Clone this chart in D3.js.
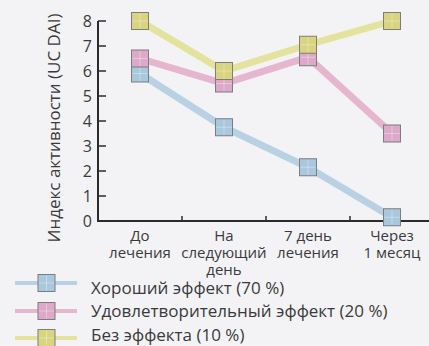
<!DOCTYPE html>
<html><head><meta charset="utf-8">
<script src="https://cdn.jsdelivr.net/npm/d3@7"></script>
<style>
html,body{margin:0;padding:0;background:#f3f3f6;}
svg{display:block;}
text{font-family:"Open Sans","Noto Sans",sans-serif;fill:#3a3a3a;}
</style></head>
<body>
<svg id="c" width="429" height="346"></svg>
<script>
const categories = [["До","лечения"],["На","следующий","день"],["7 день","лечения"],["Через","1 месяц"]];
const yTicks = [0,1,2,3,4,5,6,7,8];
const seriesNames = ["Хороший эффект (70 %)","Удовлетворительный эффект (20 %)","Без эффекта (10 %)"];
const goodValues = [5.9, 3.75, 2.15, 0.15];
const satisfactoryValues = [6.5, 5.5, 6.55, 3.5];
const noEffectValues = [8.0, 6.0, 7.05, 8.0];
const lineColors = ["#b9d2e3","#e6b6cf","#e4e39d"];
const fillColors = ["#a9c8de","#dcaac8","#d9d47f"];
const yLabel = "Индекс активности (UC DAI)";

const svg = d3.select("#c");
const x = d3.scaleBand().domain(d3.range(categories.length)).range([98, 434]);
const y = d3.scaleLinear().domain([0, 8]).range([221, 21]);
const series = [goodValues, satisfactoryValues, noEffectValues];

// axes
const ax = svg.append("g");
ax.append("line").attr("x1",98).attr("x2",429).attr("y1",y(0)).attr("y2",y(0)).attr("stroke","#2b2b2b").attr("stroke-width",2);
ax.append("line").attr("x1",98).attr("x2",98).attr("y1",y(0)+1).attr("y2",y(8)).attr("stroke","#2b2b2b").attr("stroke-width",2);
yTicks.forEach(t=>{
  ax.append("line").attr("x1",98).attr("x2",106).attr("y1",y(t)).attr("y2",y(t)).attr("stroke","#2b2b2b").attr("stroke-width",1.5);
  ax.append("text").attr("x",92).attr("y",y(t)).attr("dy","0.36em").attr("text-anchor","end").attr("font-size",16).text(t);
});
d3.range(1, categories.length).forEach(i=>{
  const xx = x(i);
  ax.append("line").attr("x1",xx).attr("x2",xx).attr("y1",y(0)).attr("y2",y(0)-5).attr("stroke","#2b2b2b").attr("stroke-width",1.5);
});
categories.forEach((lines,i)=>{
  const t = ax.append("text").attr("text-anchor","middle").attr("font-size",15);
  lines.forEach((l,j)=>t.append("tspan").attr("x",x(i)+x.bandwidth()/2).attr("y",241+j*17).text(l));
});
svg.append("text").attr("transform",`translate(60,128) rotate(-90)`).attr("text-anchor","middle").attr("font-size",17).text(yLabel);

// series
const line = d3.line().x((d,i)=>x(i)+x.bandwidth()/2).y(d=>y(d));
const S = 17;
function marker(g, cx, cy, k){
  const m = g.append("g").attr("transform",`translate(${cx-S/2},${cy-S/2})`);
  m.append("rect").attr("width",S).attr("height",S).attr("fill",fillColors[k]).attr("stroke","#7d7d80").attr("stroke-width",1);
  m.append("line").attr("x1",S/2).attr("x2",S/2).attr("y1",1).attr("y2",S-1).attr("stroke","#ffffff").attr("stroke-opacity",0.35).attr("stroke-width",1);
  m.append("line").attr("y1",S/2).attr("y2",S/2).attr("x1",1).attr("x2",S-1).attr("stroke","#ffffff").attr("stroke-opacity",0.35).attr("stroke-width",1);
}
series.forEach((vals,k)=>{
  svg.append("path").attr("d",line(vals)).attr("fill","none").attr("stroke",lineColors[k]).attr("stroke-width",7);
});
series.forEach((vals,k)=>{
  const g = svg.append("g");
  vals.forEach((v,i)=>marker(g, x(i)+x.bandwidth()/2, y(v), k));
});

// legend
const legY = [283, 311, 338];
const legTextY = [294, 317, 341];
seriesNames.forEach((n,k)=>{
  const g = svg.append("g");
  g.append("line").attr("x1",15).attr("x2",77).attr("y1",legY[k]).attr("y2",legY[k]).attr("stroke",lineColors[k]).attr("stroke-width",4);
  marker(g, 46.5, legY[k], k);
  g.append("text").attr("x",91).attr("y",legTextY[k]).attr("font-size",17).text(n);
});
</script>
</body></html>
